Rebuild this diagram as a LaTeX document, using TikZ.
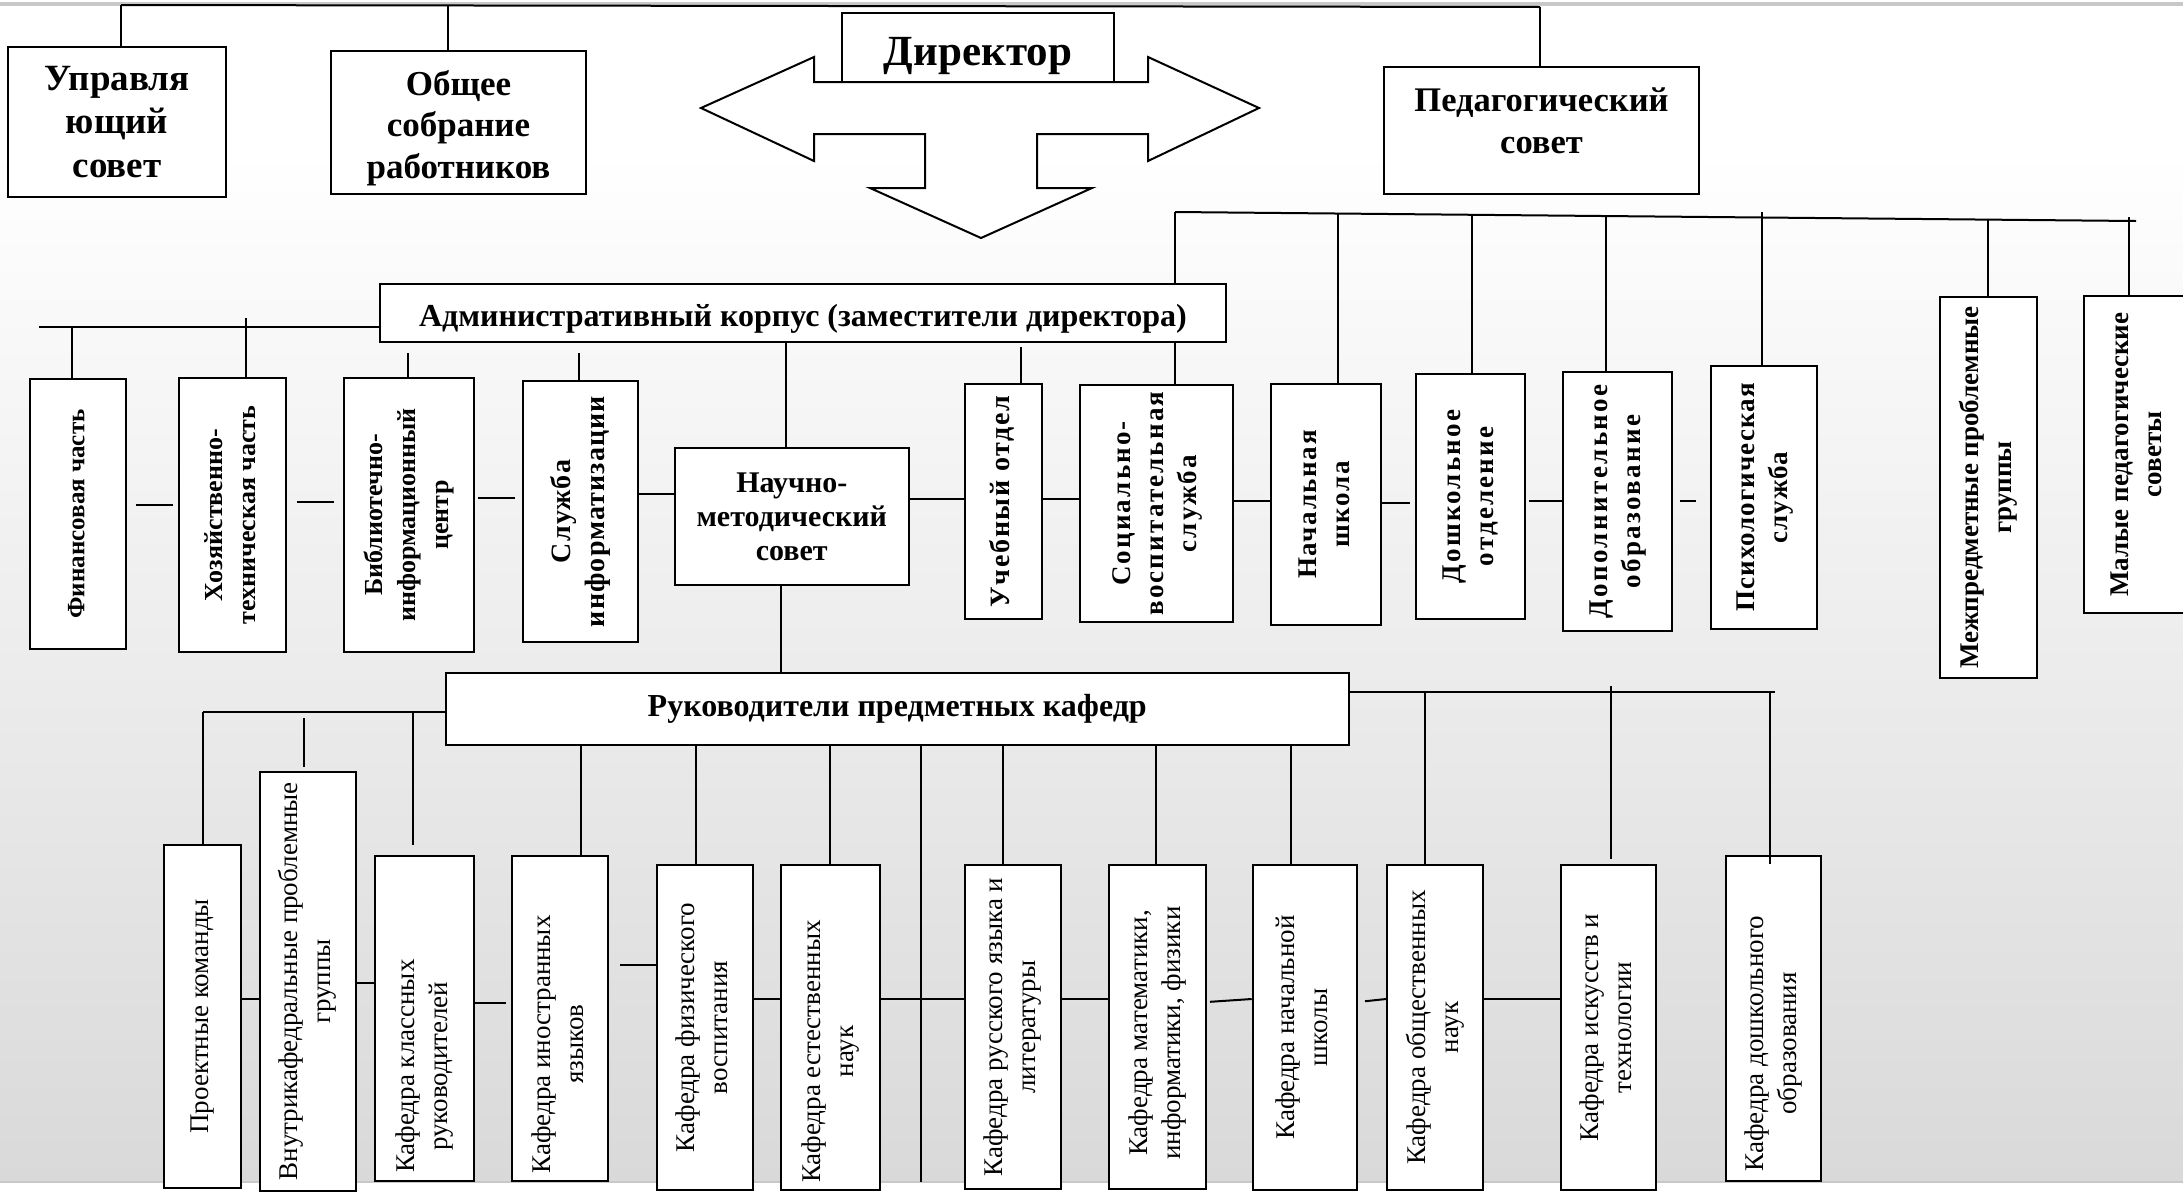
\documentclass[tikz,border=0pt]{standalone}
\usepackage{fontspec}
\setmainfont{Liberation Serif}
\usepackage{graphicx}
\definecolor{bgbot}{RGB}{217,217,217}
\definecolor{topbar}{RGB}{200,200,200}
\newcommand\vtext[2][0pt]{\rotatebox{90}{\begin{tabular}{@{}c@{}}#2\end{tabular}\hspace*{#1}}}
\newcommand\LS[1]{\addfontfeature{LetterSpace=#1}}
\begin{document}
\begin{tikzpicture}[x=1pt,y=-1pt,line join=miter,
  corners/.style n args={4}{minimum width={(#3-#1)*1pt}, minimum height={(#4-#2)*1pt}, at={({(#1+#3)/2},{(#2+#4)/2})}},
  box/.style={draw, line width=2pt, fill=white, inner sep=0pt, align=center, anchor=center},
  tb/.style={box, font=\bfseries\fontsize{35}{41.5}\selectfont},
  bb/.style={box, font=\bfseries\fontsize{27}{33}\selectfont},
  rg/.style={box, font=\fontsize{27}{33}\selectfont},
  ln/.style={line width=2pt}]
\useasboundingbox (0,0) rectangle (2183,1192);
\fill[white] (0,0) rectangle (2183,150);
\shade[top color=white, bottom color=bgbot] (0,150) rectangle (2183,1182);
\fill[white] (0,1182) rectangle (2183,1192);
\draw[topbar, line width=4pt] (0,4) -- (2183,4);
\draw[topbar, line width=2pt] (0,1182) -- (2183,1182);

% arrow
\draw[line width=2pt, fill=white] (701,108) -- (814,57) -- (814,82) -- (1148,82) -- (1148,57) -- (1259,108) -- (1148,161) -- (1148,134) -- (1037,134) -- (1037,188) -- (1092,188) -- (981,238) -- (870,188) -- (925,188) -- (925,134) -- (814,134) -- (814,161) -- cycle;

% top boxes
\node[tb, font=\bfseries\fontsize{37}{43.5}\selectfont, corners={8}{47}{226}{197}] (upr) {Управля\\ющий\\совет};
\node[tb, corners={331}{51}{586}{194}] (obs) {\rule{0pt}{36pt}Общее\\собрание\\работников};
\node[tb, font=\bfseries\fontsize{34.5}{41.5}\selectfont, corners={1384}{67}{1699}{194}] (ped) {Педагогический\\совет\rule[-20pt]{0pt}{1pt}};
\node[box, line width=1.3pt, font=\bfseries\fontsize{43}{48}\selectfont, text height=36pt, text depth=0pt, corners={842}{13}{1114}{82}] (dir) {Директор};
\node[tb, font=\bfseries\fontsize{32}{36}\selectfont, text height=27pt, text depth=0pt, corners={380}{284}{1226}{342}] (adm) {Административный корпус (заместители директора)};

% second row
\node[bb, font=\bfseries\fontsize{25}{33}\selectfont, corners={29.5}{379}{126}{649}] (fin) {\vtext{Финансовая часть}};
\node[bb, font=\bfseries\fontsize{26}{33}\selectfont, corners={179}{378}{285.5}{652}] (hoz) {\vtext{Хозяйственно-\\техническая часть}};
\node[bb, font=\bfseries\fontsize{26}{33}\selectfont, corners={344}{378}{473.5}{652}] (bib) {\vtext{Библиотечно-\\информационный\\центр}};
\node[bb, font=\bfseries\fontsize{28}{34}\selectfont\LS{4}, corners={522.6}{381}{638}{642}] (sl) {\vtext{Служба\\информатизации}};
\node[tb, font=\bfseries\fontsize{30}{34}\selectfont, corners={675}{448}{908.5}{585}] (nms) {Научно-\\методический\\совет};
\node[bb, font=\bfseries\fontsize{28}{33}\selectfont\LS{6}, corners={964.5}{384}{1042}{619}] (uch) {\vtext{Учебный отдел}};
\node[bb, font=\bfseries\fontsize{27}{33}\selectfont\LS{8}, corners={1080}{385}{1233}{622}] (soc) {\vtext{Социально-\\воспитательная\\служба}};
\node[bb, font=\bfseries\fontsize{27}{33}\selectfont\LS{6}, corners={1271}{384}{1381}{625}] (nach) {\vtext{Начальная\\школа}};
\node[bb, font=\bfseries\fontsize{27}{33}\selectfont\LS{8}, corners={1416}{374}{1525}{619}] (dosh) {\vtext{Дошкольное\\отделение}};
\node[bb, font=\bfseries\fontsize{27}{33}\selectfont\LS{9}, corners={1563}{372}{1672}{631}] (dop) {\vtext{Дополнительное\\образование}};
\node[bb, font=\bfseries\fontsize{27}{33}\selectfont\LS{4}, corners={1711}{366}{1817}{629}] (psy) {\vtext{Психологическая\\служба}};
\node[bb, corners={1940}{297}{2037}{678}] (mezh) {\vtext{Межпредметные проблемные\\группы}};
\node[bb, corners={2084}{296}{2192}{613}] (mal) {\vtext{Малые педагогические\\советы}};

% third row
\node[tb, font=\bfseries\fontsize{32}{36}\selectfont, corners={446}{673}{1348.5}{745}] (rk) {Руководители предметных кафедр};
\node[rg, corners={163.5}{845}{240.6}{1187.5}] (proj) {\vtext{Проектные команды}};
\node[rg, corners={259.6}{771.7}{355.7}{1191}] (vn) {\vtext{Внутрикафедральные проблемные\\группы}};
\node[rg, corners={375}{855.7}{473.5}{1180.6}] (kl) {\vtext[96pt]{Кафедра классных\\руководителей}};
\node[rg, corners={512}{856}{608}{1180.6}] (inl) {\vtext[52pt]{Кафедра иностранных\\языков}};
\node[rg, corners={657}{865}{752.7}{1190}] (fiz) {\vtext{Кафедра физического\\воспитания}};
\node[rg, corners={781}{865}{880}{1190}] (est) {\vtext[48pt]{Кафедра естественных\\наук}};
\node[rg, corners={964.5}{865}{1060.5}{1189}] (rus) {\vtext{Кафедра русского языка и\\литературы}};
\node[rg, corners={1109}{865}{1206}{1189}] (mat) {\vtext[12pt]{Кафедра математики,\\информатики, физики}};
\node[rg, corners={1252.7}{865}{1357}{1190}] (nsh) {\vtext{Кафедра начальной\\школы}};
\node[rg, corners={1387}{865}{1483}{1190}] (obsh) {\vtext{Кафедра общественных\\наук}};
\node[rg, corners={1560.5}{865}{1656}{1190}] (isk) {\vtext{Кафедра искусств и\\технологии}};
\node[rg, corners={1725.7}{856}{1821}{1181}] (dosh2) {\vtext[50pt]{Кафедра дошкольного\\образования}};

% top connectors
\coordinate (t1) at (121,5);
\coordinate (t2) at (448,6);
\coordinate (t3) at (1540,7);
\draw[ln] (t1) -- (t3);
\draw[ln] (t1) -- (t1 |- upr.north);
\draw[ln] (t2) -- (t2 |- obs.north);
\draw[ln] (t3) -- (t3 |- ped.north);

% admin connectors
\coordinate (a0) at (39,327);
\coordinate (a1) at (72,327);
\coordinate (a2) at (245.5,318);
\coordinate (a3) at (408,353);
\coordinate (a4) at (579,353);
\coordinate (a5) at (786,342);
\coordinate (a6) at (1021,347);
\draw[ln] (a0) -- (a0 -| adm.west);
\draw[ln] (a1) -- (a1 |- fin.north);
\draw[ln] (a2) -- (a2 |- hoz.north);
\draw[ln] (a3) -- (a3 |- bib.north);
\draw[ln] (a4) -- (a4 |- sl.north);
\draw[ln] (adm.south -| a5) -- (nms.north -| a5);
\draw[ln] (a6) -- (a6 |- uch.north);

% pedagogical line
\coordinate (p0) at (1175,212);
\coordinate (p1) at (1338,214);
\coordinate (p2) at (1471.5,215);
\coordinate (p3) at (1606,216);
\coordinate (p4) at (1761.6,212);
\coordinate (p5) at (1987.5,219.6);
\coordinate (p6) at (2129,217);
\coordinate (p7) at (2136,221);
\draw[ln] (p0) -- (p7);
\draw[ln] (p0) -- (p0 |- adm.north);
\draw[ln] (adm.south -| p0) -- (soc.north -| p0);
\draw[ln] (p1) -- (p1 |- nach.north);
\draw[ln] (p2) -- (p2 |- dosh.north);
\draw[ln] (p3) -- (p3 |- dop.north);
\draw[ln] (p4) -- (p4 |- psy.north);
\draw[ln] (p5) -- (p5 |- mezh.north);
\draw[ln] (p6) -- (p6 |- mal.north);

% row 2 horizontals
\draw[ln, shorten <=8.7pt, shorten >=5pt] (fin.east |- 0,505) -- (hoz.west |- 0,505);
\draw[ln, shorten <=10.5pt, shorten >=9pt] (hoz.east |- 0,502) -- (bib.west |- 0,502);
\draw[ln, shorten <=3.5pt, shorten >=7pt] (bib.east |- 0,498) -- (sl.west |- 0,498);
\draw[ln] (sl.east |- 0,494) -- (nms.west |- 0,494);
\draw[ln] (nms.east |- 0,499) -- (uch.west |- 0,499);
\draw[ln] (uch.east |- 0,499) -- (soc.west |- 0,499);
\draw[ln] (soc.east |- 0,501) -- (nach.west |- 0,501);
\draw[ln, shorten >=5pt] (nach.east |- 0,503) -- (dosh.west |- 0,503);
\draw[ln, shorten <=3pt] (dosh.east |- 0,501) -- (dop.west |- 0,501);
\draw[ln, shorten <=7pt, shorten >=14pt] (dop.east |- 0,501) -- (psy.west |- 0,501);

% NMS to heads
\coordinate (n1) at (781,585);
\draw[ln] (nms.south -| n1) -- (rk.north -| n1);

% row 3 connectors
\coordinate (r0) at (203,711.5);
\coordinate (r1) at (304,718);
\coordinate (r2) at (412.5,711.5);
\draw[ln] (r0) -- (r0 -| rk.west);
\draw[ln] (r0) -- (r0 |- proj.north);
\draw[ln, shorten >=4pt] (r1) -- (r1 |- vn.north);
\draw[ln, shorten >=10pt] (r2) -- (r2 |- kl.north);
\draw[ln] (rk.south -| 581,0) -- (inl.north -| 581,0);
\draw[ln] (rk.south -| 696,0) -- (fiz.north -| 696,0);
\draw[ln] (rk.south -| 830,0) -- (est.north -| 830,0);
\draw[ln] (rk.south -| 1003,0) -- (rus.north -| 1003,0);
\draw[ln] (rk.south -| 1156,0) -- (mat.north -| 1156,0);
\draw[ln] (rk.south -| 1290.5,0) -- (nsh.north -| 1290.5,0);
\coordinate (rb) at (921,1182);
\draw[ln] (rk.south -| rb) -- (rb);
\coordinate (s0) at (1774.8,692);
\coordinate (s1) at (1424.7,692);
\coordinate (s2) at (1611,686);
\coordinate (s3) at (1769.5,692);
\draw[ln] (rk.east |- s0) -- (s0);
\draw[ln] (s1) -- (s1 |- obsh.north);
\draw[ln, shorten >=5pt] (s2) -- (s2 |- isk.north);
\draw[ln, shorten >=-9pt] (s3) -- (s3 |- dosh2.north);

% row 3 horizontals
\draw[ln] (proj.east |- 0,999) -- (vn.west |- 0,999);
\draw[ln] (vn.east |- 0,982.5) -- (kl.west |- 0,982.5);
\draw[ln, shorten >=5pt] (kl.east |- 0,1002.6) -- (inl.west |- 0,1002.6);
\draw[ln, shorten <=11pt] (inl.east |- 0,964.5) -- (fiz.west |- 0,964.5);
\draw[ln] (fiz.east |- 0,999) -- (est.west |- 0,999);
\draw[ln] (est.east |- 0,999) -- (rus.west |- 0,999);
\draw[ln] (rus.east |- 0,999) -- (mat.west |- 0,999);
\draw[ln, shorten <=3pt] (mat.east |- 0,1002) -- (nsh.west |- 0,999);
\draw[ln, shorten <=7pt] (nsh.east |- 0,1002) -- (obsh.west |- 0,999);
\draw[ln] (obsh.east |- 0,999) -- (isk.west |- 0,999);
\end{tikzpicture}
\end{document}
